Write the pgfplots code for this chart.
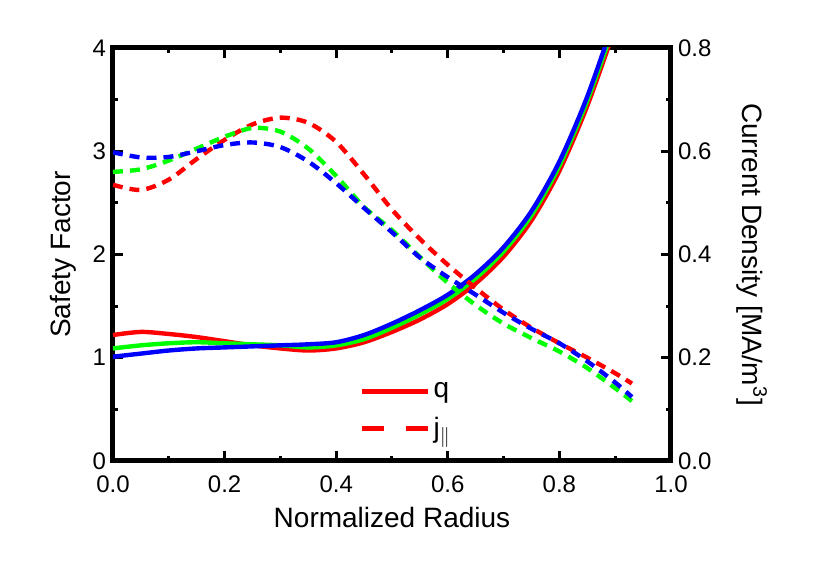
\documentclass[border=0pt]{standalone}
\usepackage{fontspec}
\setmainfont{Liberation Sans}
\usepackage{pgfplots}
\usepackage{pgfplotstable}
\pgfplotsset{compat=1.18}

% safety factor q for the three cases
\pgfplotstableread{
r      qr    qg    qb
0.00   1.22  1.09  1.01
0.05   1.25  1.12  1.04
0.10   1.23  1.14  1.07
0.15   1.20  1.15  1.09
0.20   1.16  1.14  1.10
0.25   1.12  1.13  1.11
0.30   1.09  1.12  1.12
0.35   1.07  1.10  1.13
0.40   1.09  1.12  1.15
0.45   1.15  1.18  1.22
0.50   1.25  1.29  1.33
0.55   1.37  1.42  1.46
0.60   1.52  1.57  1.61
0.65   1.72  1.77  1.81
0.70   1.98  2.03  2.07
0.75   2.33  2.38  2.42
0.80   2.81  2.86  2.90
0.85   3.44  3.49  3.53
0.90   4.20  4.25  4.30
}\qdata

% current density j (MA/m^3)
\pgfplotstableread{
r     jr     jg     jb
0.00  0.535  0.560  0.598
0.05  0.525  0.565  0.588
0.10  0.545  0.582  0.589
0.15  0.585  0.605  0.600
0.20  0.622  0.628  0.612
0.25  0.652  0.645  0.617
0.30  0.665  0.638  0.608
0.35  0.655  0.605  0.580
0.40  0.618  0.552  0.538
0.45  0.555  0.492  0.490
0.50  0.487  0.447  0.443
0.55  0.430  0.395  0.394
0.60  0.380  0.345  0.356
0.65  0.335  0.302  0.322
0.70  0.293  0.266  0.287
0.75  0.258  0.238  0.256
0.80  0.228  0.212  0.228
0.85  0.200  0.180  0.193
0.90  0.170  0.141  0.152
0.93  0.150  0.116  0.124
}\jdata

\definecolor{cr}{RGB}{255,0,0}
\definecolor{cg}{RGB}{0,255,0}
\definecolor{cb}{RGB}{0,0,255}

\pgfplotsset{
  every axis/.append style={
    scale only axis,
    width=279pt, height=206.5pt,
    xmin=0, xmax=1,
    axis line style={line width=2.5pt},
    tick style={line width=1.5pt, black},
    major tick length=5pt,
    minor tick length=2.5pt,
    tick align=inside,
    tick label style={font=\fontsize{12}{14}\selectfont},
    label style={font=\fontsize{14}{16}\selectfont},
    /pgf/number format/assume math mode=true,
  },
  qline/.style={line width=2.2pt, smooth},
  jline/.style={line width=2.2pt, smooth, dash pattern=on 5pt off 3.5pt},
}

\begin{document}
\begin{tikzpicture}
\begin{axis}[
  ymin=0, ymax=4,
  xtick={0,0.2,...,1.0},
  minor xtick={0.1,0.3,...,0.9},
  ytick={0,1,2,3,4},
  minor ytick={0.5,1.5,2.5,3.5},
  xtick pos=both,
  ytick pos=left,
  xticklabel style={yshift=-4pt, /pgf/number format/.cd, fixed, fixed zerofill, precision=1},
  xlabel={Normalized Radius},
  ylabel={Safety Factor},
  xlabel style={yshift=0pt},
  ylabel style={yshift=1.5pt},
  legend style={at={(0.43,0.21)}, anchor=north west, draw=none, fill=none,
    font=\fontsize{14}{16}\selectfont, row sep=4pt},
  legend cell align=left,
  legend image code/.code={\draw[#1] (0pt,0pt) -- (33pt,0pt);},
]
  \addplot[qline, cr] table[x=r, y=qr] {\qdata};
  \addlegendentry{q}
  \addlegendimage{line width=2.2pt, cr, dash pattern=on 11pt off 11pt}
  \addlegendentry{j$_{\|}$}
  \addplot[qline, cg] table[x=r, y=qg] {\qdata};
  \addplot[qline, cb] table[x=r, y=qb] {\qdata};
  \coordinate (bl) at (rel axis cs:-0.2025,-0.2591);
  \coordinate (tr) at (rel axis cs:1.2599,1.1162);
\end{axis}
\begin{axis}[
  ymin=0, ymax=0.8,
  axis y line*=right,
  axis x line=none,
  ytick={0,0.2,...,0.8},
  minor ytick={0.1,0.3,0.5,0.7},
  yticklabel style={/pgf/number format/.cd, fixed, fixed zerofill, precision=1},
  ylabel={Current Density [MA/m\textsuperscript{3}]},
  ylabel style={rotate=180, yshift=6pt},
]
  \addplot[jline, cr] table[x=r, y=jr] {\jdata};
  \addplot[jline, cg] table[x=r, y=jg] {\jdata};
  \addplot[jline, cb] table[x=r, y=jb] {\jdata};
\end{axis}
\pgfresetboundingbox
\path (bl) rectangle (tr);
\end{tikzpicture}
\end{document}
